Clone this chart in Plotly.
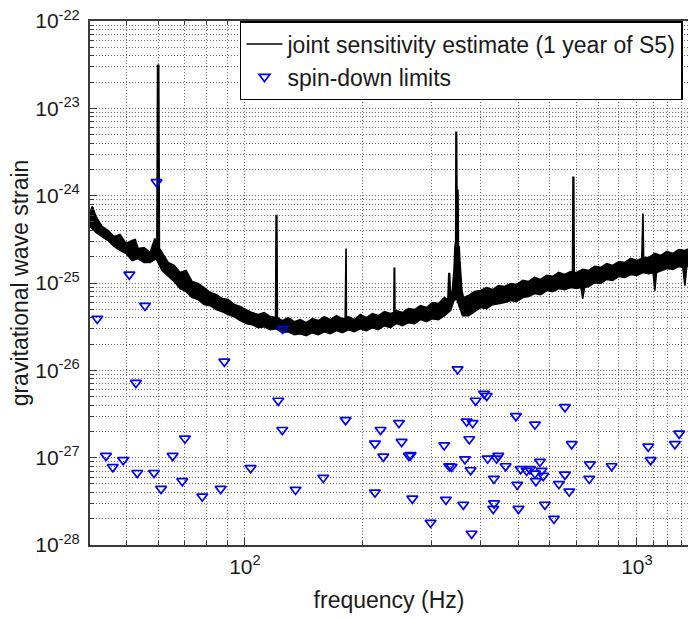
import math
import plotly.graph_objects as go

# ---- joint sensitivity estimate: upper edge of the noisy curve (freq Hz, strain)
sens_upper_freq = [40.24, 40.8, 41.68, 43.18, 44.73, 46.34, 48.0, 49.73, 51.51, 52.5, 53.36, 55.28,
                   57.27, 58.9, 59.6, 59.85, 60.25, 60.5, 61.45, 63.66, 65.95, 68.32, 70.77, 73.31,
                   75.95, 78.67, 81.5, 84.43, 87.46, 90.6, 93.86, 97.23, 100.7, 104.3, 108.1, 112.0,
                   116.0, 119.7, 120.1, 120.6, 121.0, 124.5, 129.0, 133.6, 138.4, 143.4, 148.5, 153.9,
                   159.4, 165.1, 171.1, 177.2, 180.2, 180.6, 181.1, 181.5, 183.6, 190.2, 197.0, 204.1,
                   211.4, 219.0, 226.9, 235.0, 239.8, 240.3, 240.9, 241.4, 243.5, 252.2, 261.3, 270.7,
                   280.4, 290.5, 300.9, 311.7, 322.9, 329.5, 331.2, 332.8, 334.5, 338.0, 341.4, 343.4,
                   344.9, 345.4, 346.6, 347.4, 349.5, 350.5, 352.0, 353.6, 355.7, 357.8, 361.0, 371.9,
                   385.2, 399.1, 413.4, 428.3, 443.7, 459.6, 476.1, 493.2, 511.0, 529.3, 548.3, 568.0,
                   588.5, 609.6, 631.5, 654.2, 677.7, 685.0, 687.0, 690.0, 692.0, 702.1, 727.3, 753.4,
                   780.5, 808.6, 837.6, 867.7, 898.9, 931.2, 964.7, 999.3, 1029.0, 1032.5, 1036.0,
                   1040.0, 1072.5, 1111.0, 1151.0, 1192.4, 1235.2, 1279.6, 1325.6, 1360.0]
sens_upper = [6.43e-25, 7.54e-25, 5.77e-25, 4.44e-25, 4.00e-25, 3.41e-25, 3.60e-25, 2.83e-25, 3.07e-25,
              3.15e-25, 2.48e-25, 2.55e-25, 2.24e-25, 3.23e-25, 2.76e-25, 3.12e-23, 3.12e-23, 2.48e-25,
              2.24e-25, 1.72e-25, 1.59e-25, 1.32e-25, 1.39e-25, 1.04e-25, 9.86e-26, 8.87e-26, 7.77e-26,
              7.37e-26, 6.63e-26, 6.46e-26, 5.66e-26, 5.37e-26, 4.96e-26, 4.58e-26, 4.35e-26, 4.58e-26,
              4.12e-26, 4.01e-26, 5.93e-25, 5.93e-25, 4.01e-26, 3.71e-26, 4.01e-26, 3.61e-26, 3.81e-26,
              3.52e-26, 3.91e-26, 3.71e-26, 4.12e-26, 3.81e-26, 4.23e-26, 3.91e-26, 3.91e-26, 2.48e-25,
              2.48e-25, 4.01e-26, 4.12e-26, 3.81e-26, 4.35e-26, 4.01e-26, 4.46e-26, 4.23e-26, 4.70e-26,
              4.46e-26, 4.58e-26, 1.47e-25, 1.47e-25, 4.58e-26, 4.83e-26, 4.58e-26, 5.09e-26, 4.96e-26,
              5.51e-26, 5.23e-26, 5.97e-26, 5.81e-26, 6.81e-26, 6.46e-26, 1.28e-25, 1.28e-25, 7.0e-26,
              8.19e-26, 1.39e-25, 2.62e-25, 3.0e-25, 5.31e-24, 5.31e-24, 1.15e-24, 1.15e-24, 2.62e-25,
              2.6e-25, 1.72e-25, 1.07e-25, 8.19e-26, 6.81e-26, 7.18e-26, 7.98e-26, 8.19e-26, 8.87e-26,
              8.41e-26, 9.35e-26, 9.11e-26, 9.86e-26, 9.60e-26, 1.07e-25, 1.04e-25, 1.16e-25, 1.10e-25,
              1.22e-25, 1.19e-25, 1.32e-25, 1.25e-25, 1.35e-25, 1.35e-25, 1.62e-24, 1.62e-24, 1.32e-25,
              1.32e-25, 1.43e-25, 1.39e-25, 1.55e-25, 1.51e-25, 1.67e-25, 1.59e-25, 1.76e-25, 1.72e-25,
              1.91e-25, 1.81e-25, 1.91e-25, 6.25e-25, 6.25e-25, 1.96e-25, 1.96e-25, 2.18e-25, 2.07e-25,
              2.30e-25, 2.18e-25, 2.42e-25, 2.36e-25, 2.48e-25]

# ---- lower edge of the noisy curve
sens_lower_freq = [40.24, 41.68, 43.18, 44.73, 46.34, 48.0, 49.73, 51.51, 53.36, 55.28, 57.27, 59.32,
                   61.45, 63.66, 65.95, 68.32, 70.77, 73.31, 75.95, 78.67, 81.5, 84.43, 87.46, 90.6,
                   93.86, 97.23, 100.7, 104.3, 108.1, 112.0, 116.0, 120.2, 124.5, 129.0, 133.6, 138.4,
                   143.4, 148.5, 153.9, 159.4, 165.1, 171.1, 177.2, 183.6, 190.2, 197.0, 204.1, 211.4,
                   219.0, 226.9, 235.0, 243.5, 252.2, 261.3, 270.7, 280.4, 290.5, 300.9, 311.7, 322.9,
                   334.5, 341.4, 346.5, 351.5, 359.0, 371.9, 385.2, 399.1, 413.4, 428.3, 443.7, 459.6,
                   476.1, 493.2, 511.0, 529.3, 548.3, 568.0, 588.5, 609.6, 631.5, 654.2, 677.7, 702.1,
                   720.0, 727.3, 735.0, 753.4, 780.5, 808.6, 837.6, 867.7, 898.9, 931.2, 964.7, 999.3,
                   1035.3, 1072.5, 1100.0, 1111.0, 1122.0, 1151.0, 1192.4, 1235.2, 1279.6, 1310.0,
                   1325.6, 1340.0, 1360.0]
sens_lower = [4.44e-25, 3.79e-25, 3.41e-25, 3.07e-25, 2.62e-25, 2.36e-25, 2.18e-25, 1.81e-25, 1.91e-25,
              1.72e-25, 1.72e-25, 1.91e-25, 1.39e-25, 1.19e-25, 1.04e-25, 8.64e-26, 7.98e-26, 6.81e-26,
              6.46e-26, 5.66e-26, 5.51e-26, 4.96e-26, 4.70e-26, 4.35e-26, 4.12e-26, 3.71e-26, 3.43e-26,
              3.34e-26, 3.08e-26, 3.16e-26, 2.92e-26, 3.00e-26, 2.70e-26, 2.77e-26, 2.56e-26, 2.63e-26,
              2.49e-26, 2.70e-26, 2.56e-26, 2.77e-26, 2.63e-26, 2.85e-26, 2.70e-26, 2.92e-26, 2.77e-26,
              3.00e-26, 2.85e-26, 3.08e-26, 2.92e-26, 3.25e-26, 3.08e-26, 3.43e-26, 3.25e-26, 3.52e-26,
              3.43e-26, 3.81e-26, 3.61e-26, 3.91e-26, 3.81e-26, 4.23e-26, 4.83e-26, 6.29e-26, 6.63e-26,
              5.51e-26, 4.23e-26, 4.23e-26, 4.70e-26, 5.23e-26, 5.09e-26, 5.66e-26, 5.81e-26, 5.97e-26,
              6.29e-26, 6.13e-26, 6.81e-26, 7.0e-26, 7.57e-26, 7.37e-26, 8.19e-26, 7.98e-26, 8.64e-26,
              8.41e-26, 8.87e-26, 8.64e-26, 8.87e-26, 6.63e-26, 8.87e-26, 9.11e-26, 1.01e-25, 9.86e-26,
              1.10e-25, 1.07e-25, 1.19e-25, 1.16e-25, 1.25e-25, 1.22e-25, 1.32e-25, 1.28e-25, 1.32e-25,
              8.19e-26, 1.32e-25, 1.39e-25, 1.47e-25, 1.43e-25, 1.55e-25, 1.51e-25, 9.35e-26, 1.55e-25,
              1.55e-25]

# ---- spin-down limits of known pulsars
spin_freq = [42.0, 44.2, 46.0, 48.9, 50.7, 52.7, 53.1, 55.6, 58.6, 59.5, 61.1, 65.4, 69.2, 70.3, 77.8,
             86.7, 88.6, 103.4, 121.6, 124.5, 124.8, 134.6, 158.4, 180.6, 214.6, 214.6, 221.8, 225.4,
             247.1, 251.0, 262.0, 264.6, 267.3, 297.6, 322.3, 325.6, 332.0, 336.8, 348.7, 360.6, 364.1,
             367.8, 373.5, 376.5, 378.7, 380.9, 387.7, 407.3, 413.8, 416.0, 431.7, 432.0, 429.9, 438.5,
             442.8, 462.4, 491.3, 495.1, 498.6, 505.0, 523.2, 533.5, 549.4, 549.4, 552.4, 565.6, 571.3,
             576.8, 582.4, 614.2, 632.4, 655.2, 655.0, 672.0, 681.6, 755.6, 758.6, 861.8, 1068.8,
             1084.0, 1250.0, 1282.0]
spin_limit = [3.9e-26, 1.05e-27, 7.8e-28, 9.4e-28, 1.25e-25, 7.2e-27, 6.7e-28, 5.5e-26, 6.7e-28, 1.43e-24,
              4.4e-28, 1.05e-27, 5.4e-28, 1.66e-27, 3.6e-28, 4.4e-28, 1.26e-26, 7.6e-28, 4.5e-27,
              2.08e-27, 3.0e-26, 4.3e-28, 5.9e-28, 2.7e-27, 1.45e-27, 4.0e-28, 2.08e-27, 1.03e-27, 2.5e-27,
              1.52e-27, 1.05e-27, 1.07e-27, 3.4e-28, 1.8e-28, 1.39e-27, 3.3e-28, 8.0e-28, 7.9e-28, 1.03e-26,
              2.9e-28, 9.6e-28, 2.6e-27, 1.63e-27, 7.2e-28, 1.35e-28, 2.5e-27, 4.5e-27, 5.4e-27, 5.1e-27,
              9.8e-28, 5.75e-28, 3.0e-28, 2.6e-28, 9.8e-28, 1.05e-27, 8.0e-28, 3.0e-27, 4.9e-28, 2.6e-28,
              7.4e-28, 7.1e-28, 7.4e-28, 2.4e-27, 6.6e-28, 5.4e-28, 9.0e-28, 7.1e-28, 6.2e-28, 2.9e-28,
              2.0e-28, 5.0e-28, 3.8e-27, 6.4e-28, 4.1e-28, 1.43e-27, 5.75e-28, 8.4e-28, 8.0e-28, 1.34e-27,
              9.4e-28, 1.43e-27, 1.89e-27]

# ---- axis ticks
x_tick_vals = [100, 1000]
x_tick_text = ["10<sup>2</sup>", "10<sup>3</sup>"]
x_minor_vals = [40, 50, 60, 70, 80, 90, 200, 300, 400, 500, 600, 700, 800, 900, 1100, 1200, 1300]
y_exponents = [-28, -27, -26, -25, -24, -23, -22]
y_tick_vals = [10.0 ** e for e in y_exponents]
y_tick_text = ["10<sup>%d</sup>" % e for e in y_exponents]
y_minor_vals = [k * 10.0 ** e for e in y_exponents[:-1] for k in range(2, 10)]

FONT = "Liberation Sans, Arial, Helvetica, sans-serif"
GRID = "#6e6e6e"
DASH = "1px,2px"
TXT = "#1a1a1a"

fig = go.Figure()
fig.add_trace(go.Scatter(x=sens_upper_freq, y=sens_upper, mode="lines",
                         line=dict(color="black", width=1.6),
                         name="joint sensitivity estimate (1 year of S5)", hoverinfo="skip"))
fig.add_trace(go.Scatter(x=sens_lower_freq, y=sens_lower, mode="lines",
                         line=dict(color="black", width=1.6), fill="tonexty", fillcolor="black",
                         showlegend=False, hoverinfo="skip"))
fig.add_trace(go.Scatter(x=spin_freq, y=spin_limit, mode="markers", name="spin-down limits",
                         marker=dict(symbol="triangle-down-open", size=9.5, color="#0000ff",
                                     line=dict(width=1.7, color="#0000ff"))))

axis_common = dict(
    type="log", showline=True, linecolor="#3a3a3a", linewidth=2,
    ticks="inside", ticklen=7, tickwidth=1, tickcolor="#3a3a3a",
    showgrid=True, gridcolor=GRID, gridwidth=1, griddash=DASH,
    zeroline=False, automargin=False,
    tickfont=dict(family=FONT, size=21, color=TXT),
)

fig.update_layout(
    width=688, height=618,
    margin=dict(l=90, r=0, t=21, b=73),
    paper_bgcolor="white", plot_bgcolor="white",
    font=dict(family=FONT, size=23, color=TXT),
    xaxis=dict(axis_common,
               range=[math.log10(40.24), math.log10(1350)],
               tickmode="array", tickvals=x_tick_vals, ticktext=x_tick_text,
               mirror="ticks", ticklabelstandoff=2,
               minor=dict(tickmode="array", tickvals=x_minor_vals, ticks="inside", ticklen=4,
                          tickcolor="#3a3a3a", showgrid=True, gridcolor=GRID, griddash=DASH, gridwidth=1),
               title=dict(text="frequency (Hz)", font=dict(family=FONT, size=23, color=TXT),
                          standoff=15)),
    yaxis=dict(axis_common,
               range=[-28, -22],
               tickmode="array", tickvals=y_tick_vals, ticktext=y_tick_text,
               ticklabelstandoff=4,
               minor=dict(tickmode="array", tickvals=y_minor_vals, ticks="inside", ticklen=4,
                          tickcolor="#3a3a3a", showgrid=True, gridcolor=GRID, griddash=DASH, gridwidth=1),
               title=dict(text="gravitational wave strain", font=dict(family=FONT, size=23, color=TXT),
                          standoff=0)),
    legend=dict(x=0.2508, y=1, xanchor="left", yanchor="top", traceorder="normal",
                itemwidth=36,
                bgcolor="white", bordercolor="black", borderwidth=1.5,
                font=dict(family=FONT, size=23, color=TXT)),
    showlegend=True,
)

fig.write_html("out.html", config={"displayModeBar": False},
               post_script="document.body.style.margin='0';document.body.style.padding='0';")
